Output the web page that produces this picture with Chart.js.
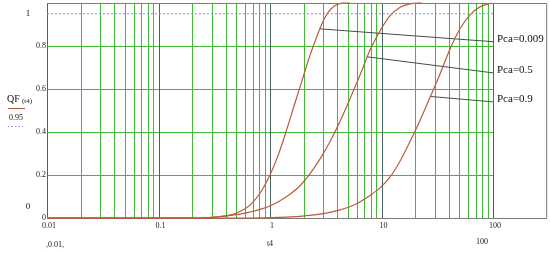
<!DOCTYPE html>
<html>
<head>
<meta charset="utf-8">
<script src="https://cdn.jsdelivr.net/npm/chart.js@4.4.1/dist/chart.umd.min.js"></script>
<style>
  html, body { margin: 0; padding: 0; background: #ffffff; }
  #box { width: 550px; height: 253px; }
</style>
</head>
<body>
<div id="box"><canvas id="grafico"></canvas></div>
<script>
// curvas QF(t4)
const t1 = [0.01, 0.236, 0.321, 0.438, 0.538, 0.662, 0.813, 1.0, 1.18, 1.39, 1.64, 1.94, 2.28, 2.59, 2.93, 3.31, 3.75, 4.42, 5.22];
const q1 = [0, 0, 0.003, 0.013, 0.03, 0.06, 0.115, 0.2, 0.29, 0.4, 0.52, 0.64, 0.755, 0.835, 0.905, 0.955, 0.985, 0.999, 1.0];

const t2 = [0.01, 0.236, 0.356, 0.538, 0.662, 0.813, 1.0, 1.23, 1.51, 1.86, 2.28, 2.81, 3.45, 4.25, 5.22, 6.42, 7.88, 9.69, 11.9, 14.7, 18.0, 23.1];
const q2 = [0, 0, 0.007, 0.018, 0.028, 0.04, 0.056, 0.08, 0.11, 0.15, 0.205, 0.275, 0.355, 0.45, 0.555, 0.665, 0.78, 0.87, 0.94, 0.98, 0.996, 1.0];

const t3 = [0.01, 0.662, 1.23, 1.86, 2.81, 4.25, 5.79, 7.88, 9.69, 11.9, 14.7, 18.0, 22.2, 27.2, 33.5, 41.1, 50.6, 62.2, 76.4, 97.9];
const q3 = [0, 0, 0.003, 0.008, 0.018, 0.038, 0.063, 0.105, 0.14, 0.19, 0.265, 0.355, 0.455, 0.56, 0.67, 0.785, 0.88, 0.945, 0.982, 1.0];

// linea punteada 0.95
const limiteT = [0.01, 100];
const limiteQ = [0.95, 0.95];

// flechas de las etiquetas
const etiquetas = ['Pca=0.009', 'Pca=0.5', 'Pca=0.9'];
const flechaT = [[2.77, 100], [7.37, 100], [27.8, 100]];
const flechaQ = [[0.88, 0.82], [0.75, 0.675], [0.565, 0.54]];

const decadas = [0.01, 0.1, 1, 10, 100];
const ticksY = [0, 0.2, 0.4, 0.6, 0.8];

const colorCurva = '#bc5a3a';
const verde = '#3fba35';
const verdeOscuro = '#46665e';
const gris = '#7a7a7a';

function puntos(xs, ys) {
  return xs.map((x, i) => ({ x: x, y: ys[i] }));
}

function valoresX() {
  const valores = [];
  decadas.forEach((d, i) => {
    if (i === decadas.length - 1) { valores.push(d); return; }
    for (let k = 1; k <= 9; k++) valores.push(+(d * k).toPrecision(3));
  });
  return valores;
}

function esDecada(v) {
  return decadas.some(d => Math.abs(d - v) < d * 1e-6);
}

const curvas = [[t1, q1], [t2, q2], [t3, q3]].map(([xs, ys]) => ({
  data: puntos(xs, ys),
  showLine: true,
  borderColor: colorCurva,
  borderWidth: 1.2,
  pointRadius: 0,
  cubicInterpolationMode: 'monotone',
  clip: false
}));

const flechas = flechaT.map((xs, i) => ({
  data: puntos(xs, flechaQ[i]),
  showLine: true,
  borderColor: '#3f4f4f',
  borderWidth: 1,
  pointRadius: 0,
  clip: false
}));

const punteada = {
  data: puntos(limiteT, limiteQ),
  showLine: true,
  borderColor: '#8a8ae6',
  borderWidth: 1,
  borderDash: [2, 2],
  pointRadius: 0
};

// rejilla verde, solo hasta 100
const rejilla = {
  id: 'rejilla',
  beforeDatasetsDraw(chart) {
    const ctx = chart.ctx;
    const x = chart.scales.x;
    const y = chart.scales.y;
    const area = chart.chartArea;
    ctx.save();
    ctx.lineWidth = 1;
    ticksY.forEach(v => {
      if (v === 0) return;
      const py = Math.round(y.getPixelForValue(v)) + 0.5;
      ctx.strokeStyle = verde;
      ctx.beginPath();
      ctx.moveTo(area.left, py);
      ctx.lineTo(area.right, py);
      ctx.stroke();
    });
    valoresX().forEach(v => {
      const px = Math.round(x.getPixelForValue(v)) + 0.5;
      ctx.strokeStyle = esDecada(v) ? verdeOscuro : verde;
      ctx.beginPath();
      ctx.moveTo(px, area.top);
      ctx.lineTo(px, area.bottom);
      ctx.stroke();
    });
    ctx.restore();
  }
};

const textos = {
  id: 'textos',
  afterDatasetsDraw(chart) {
    const ctx = chart.ctx;
    const x = chart.scales.x;
    const y = chart.scales.y;
    const area = chart.chartArea;
    const derecha = x.getPixelForValue(300);

    ctx.save();
    // marco
    ctx.strokeStyle = gris;
    ctx.lineWidth = 1;
    ctx.beginPath();
    ctx.moveTo(area.left, area.top + 0.5);
    ctx.lineTo(derecha + 0.5, area.top + 0.5);
    ctx.lineTo(derecha + 0.5, area.bottom + 0.5);
    ctx.lineTo(area.right, area.bottom + 0.5);
    ctx.stroke();

    ctx.fillStyle = '#111';
    ctx.textBaseline = 'middle';

    // etiquetas Pca
    ctx.font = '11px "Liberation Serif"';
    ctx.textAlign = 'left';
    etiquetas.forEach((txt, i) => {
      const px = x.getPixelForValue(flechaT[i][1]);
      const py = y.getPixelForValue(flechaQ[i][1]);
      ctx.fillText(txt, px + 4, py - 3);
    });

    // limites del eje y
    ctx.font = '9px "Liberation Serif"';
    ctx.textAlign = 'center';
    ctx.fillText('1', 28, area.top + 11);
    ctx.fillText('0', 28, area.bottom - 11);

    // leyenda del eje y
    ctx.textAlign = 'left';
    ctx.font = '10px "Liberation Serif"';
    ctx.fillText('QF', 7, 99);
    ctx.font = '7px "Liberation Serif"';
    ctx.fillText('(t4)', 22, 101);
    ctx.strokeStyle = colorCurva;
    ctx.beginPath();
    ctx.moveTo(8, 108.5);
    ctx.lineTo(25, 108.5);
    ctx.stroke();
    ctx.font = '8px "Liberation Serif"';
    ctx.fillText('0.95', 9, 118);
    ctx.strokeStyle = '#8a8ae6';
    ctx.setLineDash([1.5, 2]);
    ctx.beginPath();
    ctx.moveTo(8, 126.5);
    ctx.lineTo(23, 126.5);
    ctx.stroke();
    ctx.setLineDash([]);

    // limites del eje x
    ctx.textAlign = 'center';
    ctx.fillText(',0.01,', 55, 245);
    ctx.fillText('100', 482, 242);
    ctx.restore();
  }
};

Chart.defaults.font.family = '"Liberation Serif", serif';
Chart.defaults.color = '#222';

new Chart(document.getElementById('grafico'), {
  type: 'scatter',
  data: { datasets: [punteada, ...curvas, ...flechas] },
  options: {
    responsive: true,
    maintainAspectRatio: false,
    animation: false,
    layout: { padding: { top: 3, right: 57, bottom: 0, left: 0 } },
    plugins: { legend: { display: false }, tooltip: { enabled: false } },
    scales: {
      x: {
        type: 'logarithmic',
        min: 0.01,
        max: 100,
        afterBuildTicks(scale) { scale.ticks = decadas.map(v => ({ value: v })); },
        afterFit(scale) {
          scale.height = 35;
          scale.paddingLeft = 0;
          scale.paddingRight = 0;
        },
        ticks: {
          autoSkip: false,
          maxRotation: 0,
          padding: 3,
          labelOffset: 2,
          font: { size: 8 },
          callback: v => String(v)
        },
        grid: { display: false, drawTicks: false },
        border: { display: true, color: gris },
        title: { display: true, text: 't4', font: { size: 8 }, padding: { top: 0, bottom: 4 } }
      },
      y: {
        min: 0,
        max: 1,
        afterBuildTicks(scale) { scale.ticks = ticksY.map(v => ({ value: v })); },
        afterFit(scale) {
          scale.width = 47;
          scale.paddingTop = 0;
          scale.paddingBottom = 0;
        },
        ticks: {
          padding: 1,
          font: { size: 8 },
          callback: v => String(v)
        },
        grid: { display: false, drawTicks: false },
        border: { display: true, color: '#5a6a6a' }
      }
    }
  },
  plugins: [rejilla, textos]
});
</script>
</body>
</html>
